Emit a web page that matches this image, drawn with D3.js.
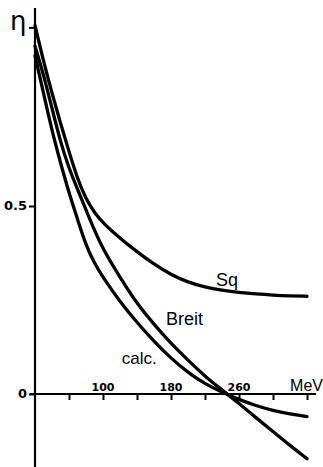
<!DOCTYPE html>
<html>
<head>
<meta charset="utf-8">
<script src="https://cdn.jsdelivr.net/npm/d3@7"></script>
<style>
  body { margin: 0; background: #fff; }
  svg { display: block; }
  .num { font-family: "DejaVu Sans", sans-serif; font-weight: bold; }
  .lbl { font-family: "Liberation Sans", Arial, sans-serif; }
</style>
</head>
<body>
<svg id="chart" width="323" height="467"></svg>
<script>
// energy grid (MeV) and curve values
const energy = [20, 30, 40, 50, 60, 70, 80, 90, 100, 120, 140, 160, 180, 200, 220, 240, 260, 280, 300, 320, 340];
const sqValues    = [0.98, 0.885, 0.80, 0.72, 0.645, 0.572, 0.518, 0.482, 0.455, 0.414, 0.378, 0.345, 0.317, 0.297, 0.284, 0.276, 0.27, 0.266, 0.263, 0.261, 0.26];
const breitValues = [0.925, 0.85, 0.76, 0.67, 0.60, 0.545, 0.49, 0.435, 0.385, 0.31, 0.24, 0.185, 0.134, 0.09, 0.047, 0.011, -0.025, -0.063, -0.10, -0.137, -0.172];
const calcValues  = [0.90, 0.80, 0.70, 0.615, 0.535, 0.465, 0.395, 0.347, 0.31, 0.245, 0.19, 0.14, 0.095, 0.057, 0.027, 0.005, -0.015, -0.031, -0.044, -0.053, -0.06];

const xTicks = [60, 100, 140, 180, 220, 260, 300, 340];
const xTickLabels = [100, 180, 260];
const yTicks = [0, 0.5, 0.975];
const yTickLabels = ["0", "0.5", ""];

// curve names with label anchor (MeV, eta)
const seriesNames = ["Sq", "Breit", "calc."];
const labelEnergy = [233, 174, 122];
const labelEta = [0.287, 0.183, 0.08];

const series = seriesNames.map((name, i) => ({
  name: name,
  values: [sqValues, breitValues, calcValues][i],
  lx: labelEnergy[i],
  ly: labelEta[i]
}));

const svg = d3.select("#chart");

const x = d3.scaleLinear().domain([20, 340]).range([35, 307]);
const y = d3.scaleLinear().domain([0, 0.5]).range([394, 206]);

// axes
svg.append("line")
  .attr("x1", x(20)).attr("x2", x(20))
  .attr("y1", 8).attr("y2", 467)
  .attr("stroke", "#000").attr("stroke-width", 2.2);

svg.append("line")
  .attr("x1", 30).attr("x2", 316)
  .attr("y1", y(0)).attr("y2", y(0))
  .attr("stroke", "#000").attr("stroke-width", 2);

svg.append("g")
  .attr("transform", `translate(0,${y(0)})`)
  .call(d3.axisBottom(x).tickValues(xTicks).tickSize(6).tickFormat(""))
  .call(g => g.select(".domain").remove())
  .call(g => g.selectAll(".tick line").attr("stroke-width", 2));

svg.append("g")
  .attr("transform", `translate(${x(20)},0)`)
  .call(d3.axisLeft(y).tickValues(yTicks).tickSize(6).tickFormat(""))
  .call(g => g.select(".domain").remove())
  .call(g => g.selectAll(".tick line").attr("stroke-width", 2));

// tick labels
svg.append("g").selectAll("text")
  .data(xTickLabels)
  .enter().append("text")
    .attr("class", "num")
    .attr("x", d => x(d))
    .attr("y", y(0) - 3)
    .attr("text-anchor", "middle")
    .attr("font-size", 11)
    .text(d => d);

svg.append("g").selectAll("text")
  .data(yTicks)
  .enter().append("text")
    .attr("class", "num")
    .attr("x", 27)
    .attr("y", d => y(d))
    .attr("dominant-baseline", "middle")
    .attr("text-anchor", "end")
    .attr("font-size", 13)
    .text((d, i) => yTickLabels[i]);

svg.append("text")
  .attr("class", "lbl")
  .attr("x", 323)
  .attr("y", 391)
  .attr("text-anchor", "end")
  .attr("font-size", 16)
  .text("MeV");

svg.append("text")
  .attr("font-family", "DejaVu Sans, sans-serif")
  .attr("x", 10)
  .attr("y", 30)
  .attr("font-size", 26)
  .text("η");

// curves
const line = d3.line()
  .x((d, i) => x(energy[i]))
  .y(d => y(d))
  .curve(d3.curveBasis);

svg.append("g").selectAll("path")
  .data(series)
  .enter().append("path")
    .attr("d", d => line(d.values))
    .attr("fill", "none")
    .attr("stroke", "#000")
    .attr("stroke-width", 3.3)
    .attr("stroke-linecap", "round");

// curve labels
svg.append("g").selectAll("text")
  .data(series)
  .enter().append("text")
    .attr("class", "lbl")
    .attr("x", d => x(d.lx))
    .attr("y", d => y(d.ly))
    .attr("font-size", d => d.name === "calc." ? 17 : 18)
    .text(d => d.name);
</script>
</body>
</html>
